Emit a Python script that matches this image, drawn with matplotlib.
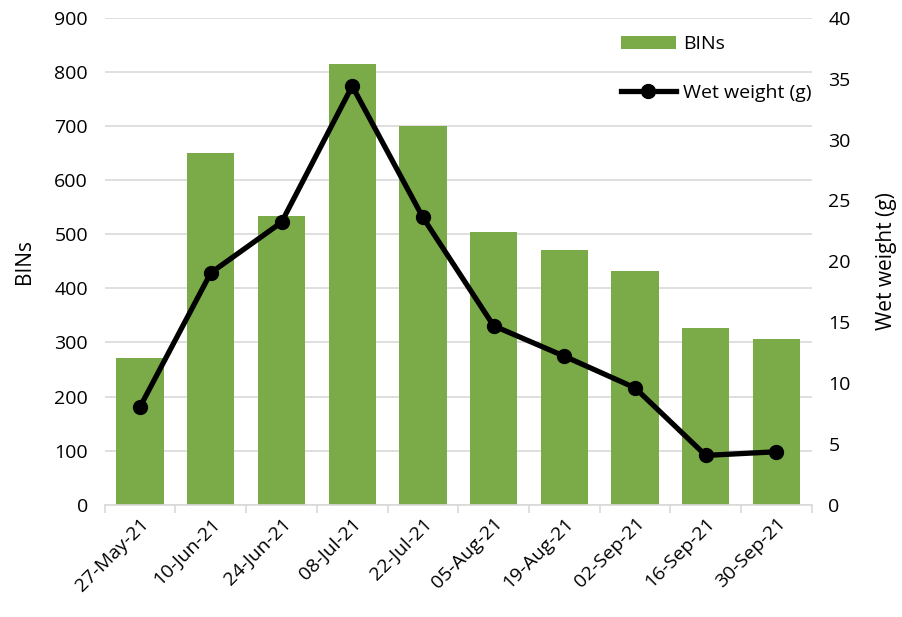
import numpy as np
import matplotlib.pyplot as plt

plt.rcParams['font.family'] = ['Open Sans', 'DejaVu Sans']

dates = ["27-May-21", "10-Jun-21", "24-Jun-21", "08-Jul-21", "22-Jul-21",
         "05-Aug-21", "19-Aug-21", "02-Sep-21", "16-Sep-21", "30-Sep-21"]
bins = [272, 651, 534, 815, 700, 505, 471, 432, 327, 307]
wet_weight = [8.05, 19.05, 23.2, 34.4, 23.6, 14.7, 12.2, 9.6, 4.05, 4.35]

fig, ax = plt.subplots(figsize=(9.03, 6.17), dpi=100)
fig.subplots_adjust(left=0.116, right=0.899, top=0.971, bottom=0.182)

x = np.arange(len(dates))
bars = ax.bar(x, bins, width=0.67, color="#7aab48", label="BINs", zorder=2)
ax.set_ylim(0, 900)
ax.set_yticks(np.arange(0, 901, 100))
ax.set_xlim(-0.5, len(dates) - 0.5)
ax.set_ylabel("BINs", fontsize=15, labelpad=14)
ax.grid(axis="y", color="#d9d9d9", linewidth=1.2, zorder=0)
ax.set_axisbelow(True)

ax.set_xticks(x)
ax.set_xticklabels(dates, rotation=45, ha="right", rotation_mode="anchor", fontsize=14)
ax.set_xticks(np.arange(-0.5, len(dates)), minor=True)
ax.tick_params(axis="x", which="major", length=0, pad=7)
ax.tick_params(axis="x", which="minor", length=6, color="#d9d9d9", width=1.2)
ax.tick_params(axis="y", length=0, labelsize=14, pad=12)
for s in ["top", "right", "left"]:
    ax.spines[s].set_visible(False)
ax.spines["bottom"].set_color("#d9d9d9")
ax.spines["bottom"].set_linewidth(1.2)

ax2 = ax.twinx()
line, = ax2.plot(x, wet_weight, color="black", linewidth=3.8, marker="o",
                 markersize=10, label="Wet weight (g)", zorder=3)
ax2.set_ylim(0, 40)
ax2.set_yticks(np.arange(0, 41, 5))
ax2.set_ylabel("Wet weight (g)", fontsize=15, labelpad=18)
ax2.tick_params(axis="y", length=0, labelsize=14, pad=12)
for s in ["top", "right", "left", "bottom"]:
    ax2.spines[s].set_visible(False)

ax2.legend([bars, line], ["BINs", "Wet weight (g)"], loc="upper right",
           bbox_to_anchor=(1.025, 1.0), frameon=False, fontsize=14,
           labelspacing=1.55, handlelength=2.8, handletextpad=0.4)

plt.savefig("out.png", dpi=100)
